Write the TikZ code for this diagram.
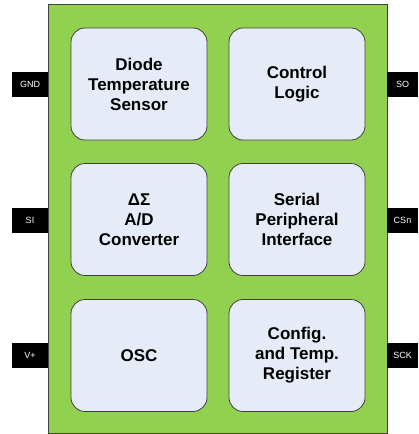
\documentclass[tikz,border=0pt]{standalone}
\usepackage{fontspec}
\setmainfont{Liberation Sans}
\definecolor{chipgreen}{HTML}{92D050}
\definecolor{blockfill}{HTML}{E6ECF7}
\definecolor{edgegray}{HTML}{404040}
\begin{document}
\begin{tikzpicture}[x=1pt,y=-1pt,
  blockbox/.style={draw=edgegray, line width=0.8pt, fill=blockfill, rounded corners=14pt,
    minimum width=136pt, minimum height=112pt, align=center, inner sep=0pt,
    font=\fontsize{17}{20}\selectfont\bfseries},
  pinbox/.style={fill=black, text=white, inner sep=0pt, font=\fontsize{9}{10}\selectfont,
    minimum height=25pt},
  lpin/.style={pinbox, minimum width=36pt},
  rpin/.style={pinbox, minimum width=31pt}]
\useasboundingbox (0,0) rectangle (418,434);
\node[draw=edgegray, line width=0.8pt, fill=chipgreen, minimum width=339pt, minimum height=429pt, inner sep=0pt, anchor=north west] (chip) at (48,4) {};
\node[lpin] (gnd) at (30,84) {GND};
\node[lpin] (si) at (30,220) {SI};
\node[lpin] (vp) at (30,355) {V+};
\node[rpin] (so) at (402.5,84) {SO};
\node[rpin] (csn) at (402.5,220) {CSn};
\node[rpin] (sck) at (402.5,355) {SCK};
\node[blockbox] (diode) at (139,84) {Diode\\Temperature\\Sensor};
\node[blockbox] (ctrl) at (297,84) {Control\\Logic};
\node[blockbox] (adc) at (139,219.5) {ΔΣ\\A/D\\Converter};
\node[blockbox] (spi) at (297,219.5) {Serial\\Peripheral\\Interface};
\node[blockbox] (osc) at (139,355.5) {OSC};
\node[blockbox] (cfg) at (297,355.5) {Config.\\and Temp.\\Register};
\end{tikzpicture}
\end{document}
